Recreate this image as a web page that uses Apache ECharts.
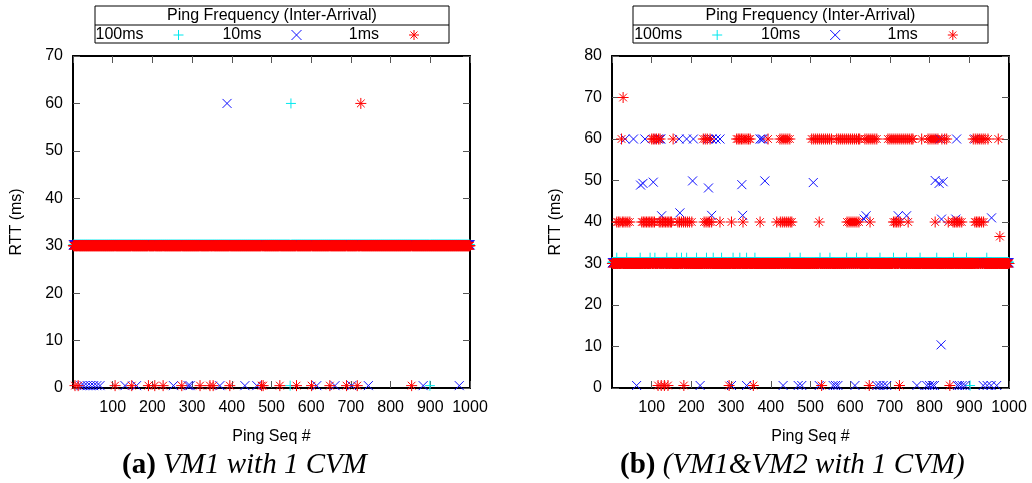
<!DOCTYPE html>
<html><head><meta charset="utf-8">
<script src="https://cdn.jsdelivr.net/npm/echarts@6/dist/echarts.min.js"></script>
<style>html,body{margin:0;padding:0;background:#fff}#c{width:1032px;height:483px}</style>
</head><body><div id="c"></div>
<script>
// ---------------- data ----------------
const pingCount = 1000;                     // ping sequence numbers 1..1000
const seriesNames = ['100ms', '10ms', '1ms'];
const xTicks = [0, 1000, 100];              // min, max, step for Ping Seq #
const yTicksA = [0, 70, 10];
const yTicksB = [0, 80, 10];

// Panel (a): VM1 with 1 CVM — typical RTT per series, then the pings that differ
const aTypical100 = 30.2, aTypical10 = 30.2, aTypical1 = 30.0;
const aOut100 = [[549, 60], [547, 0.5], [899, 0.5]];
const aOut10 = [[388, 60], [20, 0.5], [28, 0.5], [36, 0.5], [44, 0.5], [52, 0.5], [60, 0.5], [68, 0.5],
  [131, 0.5], [160, 0.5], [253, 0.5], [290, 0.5], [295, 0.5], [370, 0.5], [433, 0.5], [463, 0.5],
  [614, 0.5], [660, 0.5], [702, 0.5], [744, 0.5], [882, 0.5], [973, 0.5]];
const aOut1 = [[725, 60], [5, 0.5], [13, 0.5], [106, 0.5], [148, 0.5], [190, 0.5], [206, 0.5], [227, 0.5],
  [274, 0.5], [320, 0.5], [345, 0.5], [353, 0.5], [395, 0.5], [475, 0.5], [479, 0.5], [521, 0.5],
  [563, 0.5], [601, 0.5], [647, 0.5], [689, 0.5], [716, 0.5], [853, 0.5]];

// Panel (b): VM1&VM2 with 1 CVM
const bTypical100 = 30.3, bTypical10 = 30.2, bTypical1 = 30.0;
const bOut100 = [[12, 31.4], [37, 31.4], [71, 31.4], [96, 31.4], [108, 31.4], [138, 31.4], [163, 31.4],
  [175, 31.4], [188, 31.4], [213, 31.4], [238, 31.4], [255, 31.4], [276, 31.4], [305, 31.4], [322, 31.4],
  [339, 31.4], [360, 31.4], [448, 31.4], [474, 31.4], [524, 31.4], [549, 31.4], [591, 31.4], [616, 31.4],
  [642, 31.4], [675, 31.4], [709, 31.4], [742, 31.4], [776, 31.4], [818, 31.4], [860, 31.4], [893, 31.4],
  [944, 31.4], [902, 0.6]];
const bOut10 = [
  [33, 60], [54, 60], [83, 60], [116, 60], [120, 60], [123, 60], [169, 60], [188, 60], [205, 60],
  [242, 60], [252, 60], [262, 60], [272, 60], [373, 60], [377, 60], [381, 60], [826, 60], [868, 60], [914, 60],
  [72, 48.9], [78, 49.3], [104, 49.6], [203, 49.9], [243, 48.2], [327, 49.0], [385, 49.9], [507, 49.5],
  [814, 50.0], [824, 49.3], [834, 49.7],
  [125, 41.5], [171, 42.2], [251, 41.6], [329, 41.6], [640, 41.5], [635, 40.7], [721, 41.5], [742, 41.5],
  [830, 40.7], [866, 40.7], [956, 41.0],
  [829, 10.4],
  [62, 0.6], [222, 0.6], [301, 0.6], [339, 0.6], [431, 0.6], [469, 0.6], [478, 0.6], [522, 0.6],
  [557, 0.6], [563, 0.6], [569, 0.6], [612, 0.6], [667, 0.6], [675, 0.6], [683, 0.6], [692, 0.6],
  [768, 0.6], [793, 0.6], [800, 0.6], [807, 0.6], [812, 0.6], [870, 0.6], [875, 0.6], [882, 0.6],
  [889, 0.6], [935, 0.6], [945, 0.6], [955, 0.6], [969, 0.6]];
const bOut1 = [
  [28, 70],
  [24, 60], [100, 60], [104, 60], [108, 60], [112, 60], [117, 60], [121, 60], [154, 60], [230, 60], [235, 60],
  [240, 60], [247, 60], [314, 60], [318, 60], [322, 60], [326, 60], [330, 60], [335, 60], [340, 60], [344, 60],
  [348, 60], [393, 60], [423, 60], [428, 60], [433, 60], [438, 60], [443, 60], [448, 60], [503, 60], [508, 60],
  [513, 60], [518, 60], [523, 60], [528, 60], [533, 60], [538, 60], [543, 60], [548, 60], [553, 60], [566, 60],
  [571, 60], [576, 60], [581, 60], [586, 60], [591, 60], [596, 60], [601, 60], [606, 60], [611, 60], [616, 60],
  [621, 60], [624, 60], [637, 60], [642, 60], [647, 60], [652, 60], [657, 60], [662, 60], [667, 60], [695, 60],
  [700, 60], [705, 60], [710, 60], [715, 60], [720, 60], [725, 60], [730, 60], [735, 60], [740, 60], [745, 60],
  [750, 60], [755, 60], [758, 60], [780, 60], [796, 60], [801, 60], [806, 60], [811, 60], [816, 60], [821, 60],
  [831, 60], [838, 60], [843, 60], [910, 60], [915, 60], [920, 60], [925, 60], [930, 60], [935, 60], [940, 60],
  [947, 60], [973, 60],
  [12, 40], [16, 40], [20, 40], [26, 40], [30, 40], [35, 40], [40, 40], [45, 40], [75, 40], [79, 40], [83, 40],
  [87, 40], [91, 40], [95, 40], [99, 40], [103, 40], [107, 40], [119, 40], [123, 40], [127, 40], [131, 40],
  [135, 40], [139, 40], [143, 40], [147, 40], [150, 40], [166, 40], [170, 40], [175, 40], [180, 40], [185, 40],
  [190, 40], [195, 40], [201, 40], [232, 40], [237, 40], [242, 40], [246, 40], [251, 40], [272, 40], [301, 40],
  [330, 40], [373, 40], [415, 40], [424, 40], [429, 40], [434, 40], [439, 40], [444, 40], [449, 40], [453, 40],
  [522, 40], [592, 40], [597, 40], [602, 40], [607, 40], [612, 40], [617, 40], [622, 40], [650, 40], [709, 40],
  [713, 40], [717, 40], [721, 40], [726, 40], [746, 40], [814, 40], [847, 40], [859, 40], [863, 40], [867, 40],
  [871, 40], [876, 40], [881, 40], [914, 40], [918, 40], [922, 40], [926, 40], [931, 40], [936, 40],
  [977, 36.5],
  [116, 0.6], [124, 0.6], [132, 0.6], [141, 0.6], [181, 0.6], [295, 0.6], [356, 0.6], [528, 0.6], [648, 0.6],
  [724, 0.6], [851, 0.6]];

// ---------------- build ----------------
function buildPoints(typical, outliers) {
  const seen = new Set(outliers.map(p => p[0]));
  const pts = [];
  for (let s = 1; s <= pingCount; s++) if (!seen.has(s)) pts.push([s, typical]);
  return pts.concat(outliers);
}

const FONT = 'Liberation Sans';
const SERIF = 'Liberation Serif';
const colors = ['#00e8ee', '#1010ff', '#ff0000'];
const symbols = [
  'path://M5,0L5,10M0,5L10,5',
  'path://M0,0L10,10M10,0L0,10',
  'path://M5,0L5,10M0,5L10,5M1.5,1.5L8.5,8.5M8.5,1.5L1.5,8.5'
];
const symbolSizes = [10, 9, 11];

function mkX(gridIndex, top) {
  return {
    type: 'value', gridIndex, position: top ? 'top' : 'bottom',
    min: xTicks[0], max: xTicks[1], interval: xTicks[2],
    name: top ? '' : 'Ping Seq #', nameLocation: 'middle', nameGap: 41,
    nameTextStyle: {fontFamily: FONT, fontSize: 16, color: '#000'},
    axisLine: {show: true, onZero: false, lineStyle: {color: '#000', width: 2}},
    axisTick: {show: true, inside: true, length: 7, lineStyle: {color: '#555', width: 1}},
    axisLabel: {show: !top, showMinLabel: false, color: '#000', fontFamily: FONT, fontSize: 16, margin: 12,
      formatter: v => String(v)},
    splitLine: {show: false}
  };
}
function mkY(gridIndex, ticks, right) {
  return {
    type: 'value', gridIndex, position: right ? 'right' : 'left',
    min: ticks[0], max: ticks[1], interval: ticks[2],
    name: right ? '' : 'RTT (ms)', nameLocation: 'middle', nameGap: 48, nameRotate: 90,
    nameTextStyle: {fontFamily: FONT, fontSize: 16, color: '#000'},
    axisLine: {show: true, onZero: false, lineStyle: {color: '#000', width: 2}},
    axisTick: {show: true, inside: true, length: 7, lineStyle: {color: '#555', width: 1}},
    axisLabel: {show: !right, color: '#000', fontFamily: FONT, fontSize: 16, margin: 10,
      formatter: v => String(v)},
    splitLine: {show: false}
  };
}
function mkSeries(i, xIdx, yIdx, data) {
  return {
    type: 'scatter', name: seriesNames[i], xAxisIndex: xIdx, yAxisIndex: yIdx,
    data, symbol: symbols[i], symbolSize: symbolSizes[i],
    itemStyle: {color: colors[i], borderColor: colors[i], borderWidth: 1, opacity: 1},
    emphasis: {disabled: true}, silent: true, animation: false
  };
}

const legendIconCenters = [[179, 297, 414.5], [717.7, 835.7, 953.3]];
const legends = [];
legendIconCenters.forEach(row => row.forEach((cx, i) => {
  legends.push({
    data: [seriesNames[i]], right: 1032 - (cx + 5), top: 27, padding: 0,
    align: 'right', orient: 'horizontal', selectedMode: false,
    itemWidth: 10, itemHeight: 10,
    itemStyle: {borderWidth: 1},
    textStyle: {fontFamily: FONT, fontSize: 16, color: '#000', padding: [0, 25, 0, 0]}
  });
}));

function legendBox(x, w, cx) {
  return [
    {type: 'rect', shape: {x: x, y: 6, width: w, height: 37}, style: {fill: 'none', stroke: '#000', lineWidth: 1}, silent: true},
    {type: 'line', shape: {x1: x, y1: 25, x2: x + w, y2: 25}, style: {stroke: '#000', lineWidth: 1}, silent: true},
    {type: 'text', x: cx, y: 15.5, style: {text: 'Ping Frequency (Inter-Arrival)', fontFamily: FONT, fontSize: 16,
      fill: '#000', align: 'center', verticalAlign: 'middle'}, silent: true}
  ];
}

const captionRich = {
  b: {fontFamily: SERIF, fontWeight: 'bold', fontStyle: 'normal', fontSize: 29, color: '#000'},
  i: {fontFamily: SERIF, fontWeight: 'normal', fontStyle: 'italic', fontSize: 29, color: '#000'}
};

const chart = echarts.init(document.getElementById('c'), null, {renderer: 'canvas'});
chart.setOption({
  animation: false,
  backgroundColor: '#fff',
  grid: [
    {left: 73, right: 1032 - 470, top: 56, bottom: 483 - 388, containLabel: false},
    {left: 612, right: 1032 - 1009, top: 56, bottom: 483 - 388, containLabel: false}
  ],
  xAxis: [mkX(0, false), mkX(0, true), mkX(1, false), mkX(1, true)],
  yAxis: [mkY(0, yTicksA, false), mkY(0, yTicksA, true), mkY(1, yTicksB, false), mkY(1, yTicksB, true)],
  legend: legends,
  title: [
    {text: '{b|(a)} {i|VM1 with 1 CVM}', left: 122, top: 451, padding: 0,
      textStyle: {fontWeight: 'normal', fontFamily: SERIF, fontSize: 29, rich: captionRich}},
    {text: '{b|(b)} {i|(VM1&VM2 with 1 CVM)}', left: 620, top: 451, padding: 0,
      textStyle: {fontWeight: 'normal', fontFamily: SERIF, fontSize: 29, rich: captionRich}}
  ],
  graphic: legendBox(95, 354, 272).concat(legendBox(633, 355, 810.5)),
  series: [
    mkSeries(0, 0, 0, buildPoints(aTypical100, aOut100)),
    mkSeries(1, 0, 0, buildPoints(aTypical10, aOut10)),
    mkSeries(2, 0, 0, buildPoints(aTypical1, aOut1)),
    mkSeries(0, 2, 2, buildPoints(bTypical100, bOut100)),
    mkSeries(1, 2, 2, buildPoints(bTypical10, bOut10)),
    mkSeries(2, 2, 2, buildPoints(bTypical1, bOut1))
  ]
});
</script></body></html>
